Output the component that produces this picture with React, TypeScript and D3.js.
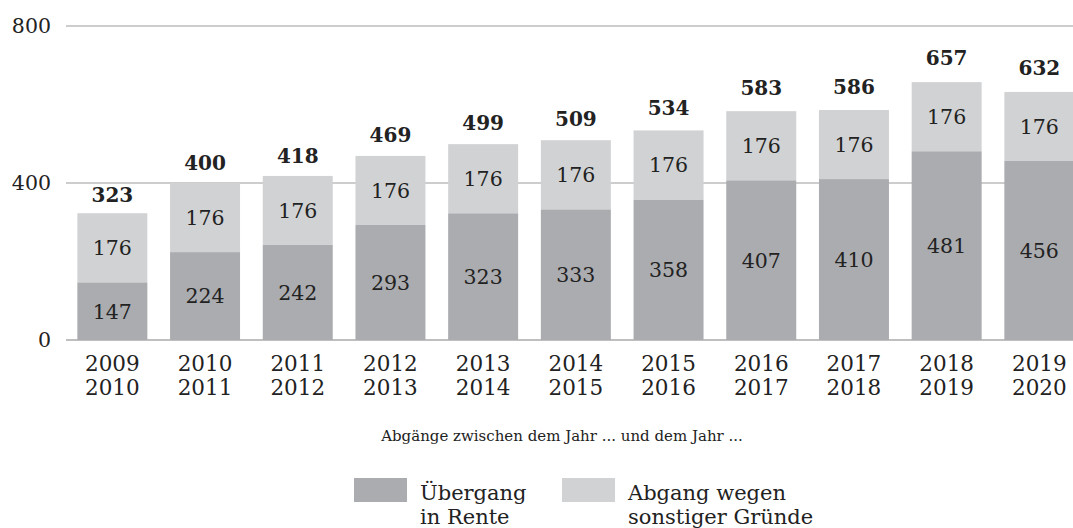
import React from "react";
import * as d3 from "d3";

const periods: [string, string][] = [
  ["2009", "2010"], ["2010", "2011"], ["2011", "2012"], ["2012", "2013"],
  ["2013", "2014"], ["2014", "2015"], ["2015", "2016"], ["2016", "2017"],
  ["2017", "2018"], ["2018", "2019"], ["2019", "2020"],
];
const rente = [147, 224, 242, 293, 323, 333, 358, 407, 410, 481, 456];
const sonstige = [176, 176, 176, 176, 176, 176, 176, 176, 176, 176, 176];
const totals = [323, 400, 418, 469, 499, 509, 534, 583, 586, 657, 632];
const yTicks = [0, 400, 800];
const axisTitle = "Abgänge zwischen dem Jahr ... und dem Jahr ...";
const legendItems = [
  { lines: ["Übergang", "in Rente"], color: "#abacaf" },
  { lines: ["Abgang wegen", "sonstiger Gründe"], color: "#d1d2d4" },
];

const W = 1073;
const H = 528;
const FONT = "'DejaVu Serif', serif";
const TEXT = "#222";

export default function App() {
  const x = d3
    .scaleBand<number>()
    .domain(d3.range(periods.length))
    .range([66, 66 + 11 * 92.7])
    .paddingInner(0.245)
    .paddingOuter(0.1225);
  const y = d3.scaleLinear().domain([0, 800]).range([340, 26]);
  const bw = x.bandwidth();

  return (
    <svg
      width={W}
      height={H}
      style={{ position: "absolute", left: 0, top: 0, background: "#fff" }}
      fontFamily={FONT}
    >
      {yTicks.map((t) => (
        <g key={t}>
          <line
            x1={66}
            x2={W}
            y1={y(t)}
            y2={y(t)}
            stroke={t === 0 ? "#aaa" : "#bdbdbd"}
            strokeWidth={1.5}
          />
          <text
            x={51}
            y={y(t)}
            dy="0.36em"
            textAnchor="end"
            fontSize={20.5}
            fill={TEXT}
          >
            {t}
          </text>
        </g>
      ))}
      {periods.map((p, i) => {
        const x0 = x(i)!;
        const cx = x0 + bw / 2;
        const r = rente[i];
        const s = sonstige[i];
        const tot = totals[i];
        const ty = y(tot * 1.045) - 5.5;
        return (
          <g key={i}>
            <rect x={x0} y={y(r)} width={bw} height={y(0) - y(r)} fill={legendItems[0].color} />
            <rect x={x0} y={y(r + s)} width={bw} height={y(r) - y(r + s)} fill={legendItems[1].color} />
            <text x={cx} y={(y(0) + y(r)) / 2} dy="0.36em" textAnchor="middle" fontSize={20.5} fill={TEXT}>
              {r}
            </text>
            <text x={cx} y={(y(r) + y(r + s)) / 2} dy="0.36em" textAnchor="middle" fontSize={20.5} fill={TEXT}>
              {s}
            </text>
            <rect x={cx - 25} y={ty - 18} width={50} height={22} fill="#fff" />
            <text x={cx} y={ty} textAnchor="middle" fontSize={20} fontWeight="bold" fill={TEXT}>
              {tot}
            </text>
            <text x={cx} y={371} textAnchor="middle" fontSize={21.5} fill={TEXT}>
              {p[0]}
            </text>
            <text x={cx} y={395} textAnchor="middle" fontSize={21.5} fill={TEXT}>
              {p[1]}
            </text>
          </g>
        );
      })}
      <text x={562} y={441} textAnchor="middle" fontSize={15} fill={TEXT}>
        {axisTitle}
      </text>
      {legendItems.map((it, i) => {
        const lx = i === 0 ? 354 : 562;
        return (
          <g key={i}>
            <rect x={lx} y={478} width={53} height={24} fill={it.color} />
            {it.lines.map((ln, j) => (
              <text key={j} x={lx + 66} y={500 + j * 24} fontSize={21} fill={TEXT}>
                {ln}
              </text>
            ))}
          </g>
        );
      })}
    </svg>
  );
}
